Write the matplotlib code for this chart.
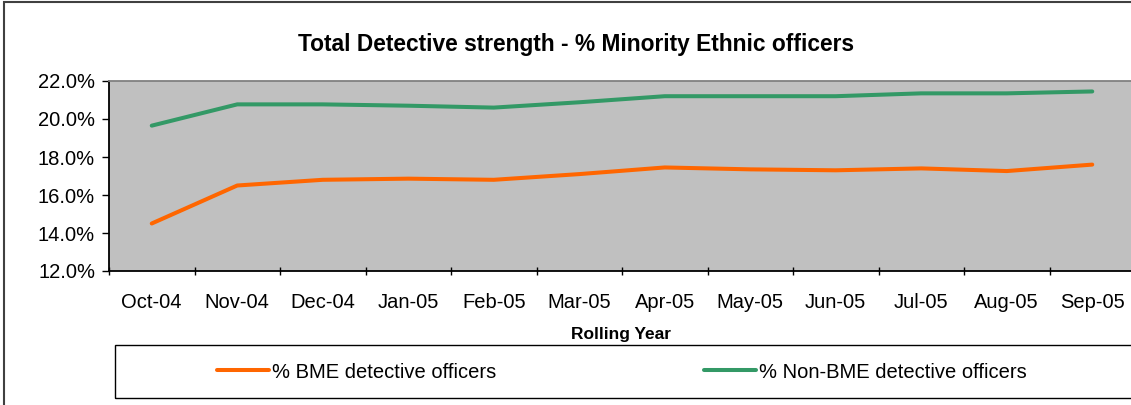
import matplotlib

matplotlib.use("Agg")
import matplotlib.pyplot as plt
from matplotlib.patches import Rectangle
from matplotlib.ticker import FixedLocator, FuncFormatter

plt.rcParams["font.family"] = ["Liberation Sans", "DejaVu Sans"]

months = ["Oct-04", "Nov-04", "Dec-04", "Jan-05", "Feb-05", "Mar-05",
          "Apr-05", "May-05", "Jun-05", "Jul-05", "Aug-05", "Sep-05"]
bme_pct = [14.5, 16.5, 16.8, 16.86, 16.8, 17.1, 17.45, 17.35, 17.3, 17.4, 17.26, 17.6]
non_bme_pct = [19.65, 20.77, 20.77, 20.7, 20.6, 20.88, 21.2, 21.2, 21.2, 21.35, 21.35, 21.45]

W, H = 1131, 405
fig = plt.figure(figsize=(W / 100, H / 100), dpi=100)

# outer chart border (right and bottom edges fall outside the canvas)
fig.patches.append(Rectangle((4 / W, -0.05), 1.1, 1.05 - 2 / H, transform=fig.transFigure,
                             fill=False, edgecolor="#404040", linewidth=1.5))

left, right, top, bottom = 109, 1135, 81, 271
ax = fig.add_axes([left / W, 1 - bottom / H, (right - left) / W, (bottom - top) / H])
ax.set_facecolor("#C0C0C0")

x = list(range(len(months)))
ax.plot(x, bme_pct, color="#FF6600", linewidth=2.9, solid_capstyle="round",
        label="% BME detective officers")
ax.plot(x, non_bme_pct, color="#339966", linewidth=2.9, solid_capstyle="round",
        label="% Non-BME detective officers")

ax.set_xlim(-0.5, len(months) - 0.5)
ax.set_ylim(12, 22)
ax.set_yticks([12, 14, 16, 18, 20, 22])
ax.yaxis.set_major_formatter(FuncFormatter(lambda v, _: f"{v:.1f}%"))

# tick marks sit between categories, labels at category centres
ax.xaxis.set_major_locator(FixedLocator([i - 0.5 for i in range(len(months) + 1)]))
ax.xaxis.set_major_formatter(FuncFormatter(lambda v, _: ""))
ax.set_xticks(x, minor=True)
ax.set_xticklabels(months, minor=True)
ax.tick_params(axis="x", which="minor", length=0, pad=16, labelsize=14.5)
ax.tick_params(axis="x", which="major", length=6, width=1, direction="inout")
ax.tick_params(axis="y", length=5, width=1, direction="out", labelsize=14.5, pad=5)

for side in ("left", "bottom"):
    ax.spines[side].set_color("#000000")
    ax.spines[side].set_linewidth(1.3)
ax.spines["top"].set_color("#808080")
ax.spines["top"].set_linewidth(1.3)
ax.spines["right"].set_visible(False)

fig.text(576 / W, 1 - 45 / H, "Total Detective strength - % Minority Ethnic officers",
         ha="center", va="center", fontsize=16.4, fontweight="bold")
fig.text(621 / W, 1 - 334 / H, "Rolling Year", ha="center", va="center",
         fontsize=12.5, fontweight="bold")

# legend box
fig.patches.append(Rectangle((115 / W, 1 - 398 / H), 1.0, 53 / H, transform=fig.transFigure,
                             fill=False, edgecolor="#000000", linewidth=1.0))
fig.legend(loc="center left", bbox_to_anchor=(217 / W, 1 - 372 / H), ncol=2, frameon=False,
           fontsize=14.5, handlelength=2.6, handletextpad=0.15, columnspacing=10.3,
           borderpad=0, borderaxespad=0)

fig.savefig("out.png", dpi=100)
